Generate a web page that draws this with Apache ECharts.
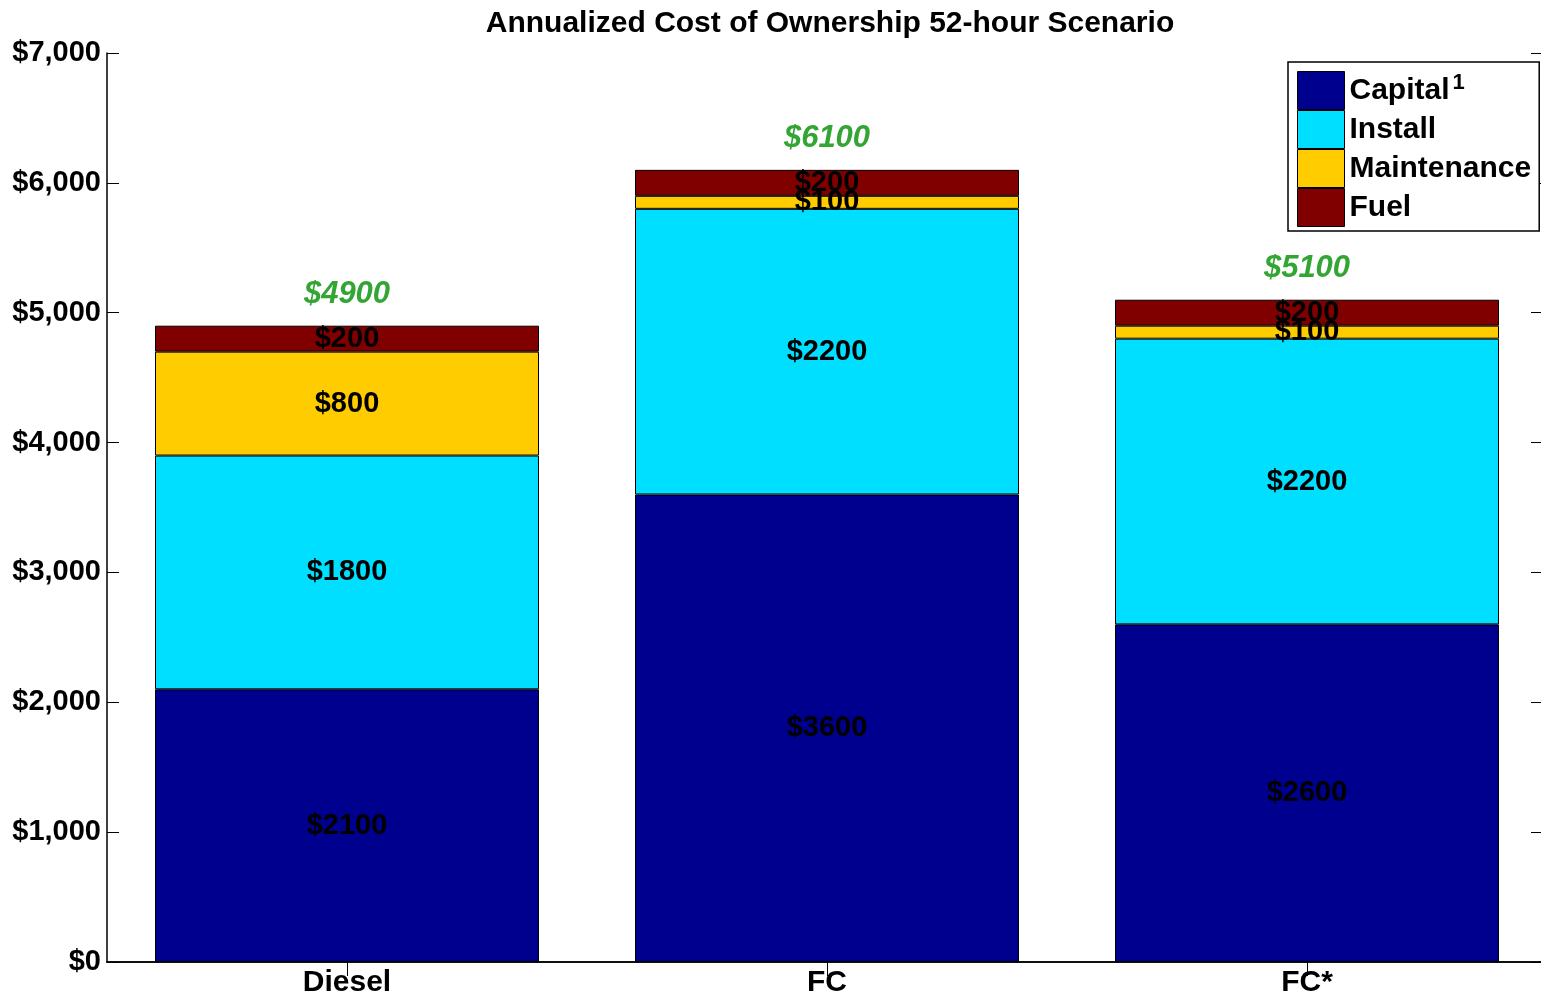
<!DOCTYPE html>
<html>
<head>
<meta charset="utf-8">
<script src="https://cdn.jsdelivr.net/npm/echarts@6/dist/echarts.min.js"></script>
<style>
  html, body { margin: 0; padding: 0; background: #fff; }
  #chart { width: 1541px; height: 997px; }
</style>
</head>
<body>
<div id="chart"></div>
<script>
// 数据
var categories = ['Diesel', 'FC', 'FC*']
var seriesNames = ['Capital', 'Install', 'Maintenance', 'Fuel']
var capital = [2100, 3600, 2600]
var install = [1800, 2200, 2200]
var maintenance = [800, 100, 100]
var fuel = [200, 200, 200]
var totals = [4900, 6100, 5100]
var yTicks = [0, 1000, 2000, 3000, 4000, 5000, 6000, 7000]

var font = 'Liberation Sans, Arial, sans-serif'
var colors = ['#00008F', '#00DFFF', '#FFCC00', '#800000']
var seriesData = [capital, install, maintenance, fuel]

function money(v) {
  return '$' + String(v).replace(/\B(?=(\d{3})+(?!\d))/g, ',')
}

var myChart = echarts.init(document.getElementById('chart'))

var series = seriesNames.map(function(name, i) {
  return {
    name: name,
    type: 'bar',
    stack: 'total',
    barWidth: '80%',
    data: seriesData[i],
    itemStyle: { color: colors[i], borderColor: '#000', borderWidth: 1 },
    label: {
      show: true,
      position: 'inside',
      color: '#000',
      fontFamily: font,
      fontWeight: 'bold',
      fontSize: 29,
      formatter: function(p) { return '$' + p.value }
    },
    emphasis: { disabled: true }
  }
})

// 总计标签
series.push({
  name: 'total',
  type: 'scatter',
  data: totals,
  symbolSize: 1,
  itemStyle: { color: 'rgba(0,0,0,0)' },
  silent: true,
  label: {
    show: true,
    position: 'top',
    distance: 15,
    color: '#008F00',
    fontFamily: font,
    fontWeight: 'bold',
    fontStyle: 'italic',
    fontSize: 31,
    formatter: function(p) { return '$' + p.value }
  }
})

var option = {
  backgroundColor: '#fff',
  animation: false,
  color: colors,
  title: {
    text: 'Annualized Cost of Ownership 52-hour Scenario',
    left: 825,
    textAlign: 'center',
    top: 4,
    textStyle: { fontFamily: font, fontWeight: 'bold', fontSize: 30, color: '#000' }
  },
  legend: {
    data: seriesNames,
    orient: 'vertical',
    left: 1288,
    top: 62,
    icon: 'rect',
    itemWidth: 47,
    itemHeight: 38,
    itemGap: 0,
    padding: [9, 8, 4, 9],
    backgroundColor: '#fff',
    borderColor: '#000',
    borderWidth: 1.5,
    itemStyle: { borderColor: '#000', borderWidth: 1 },
    formatter: function(name) {
      return name === 'Capital' ? name + '{sup|1}' : name
    },
    textStyle: {
      fontFamily: font,
      fontWeight: 'bold',
      fontSize: 30,
      color: '#000',
      rich: {
        sup: { fontFamily: font, fontWeight: 'bold', fontSize: 22, color: '#000', verticalAlign: 'top', padding: [0, 0, 16, 3] }
      }
    },
    selectedMode: false
  },
  grid: { left: 107, width: 1440, top: 53, bottom: 35, outerBoundsMode: 'none' },
  xAxis: [
    {
      type: 'category',
      data: categories,
      axisLine: { lineStyle: { color: '#000', width: 1.5 } },
      axisTick: { show: false },
      axisLabel: { fontFamily: font, fontWeight: 'bold', fontSize: 30, color: '#000', margin: 6 }
    },
    {
      type: 'category',
      data: categories,
      position: 'top',
      axisLine: { show: true, lineStyle: { color: '#000', width: 1.5 } },
      axisTick: { show: true, inside: true, alignWithLabel: true, length: 14, lineStyle: { color: '#000' } },
      axisLabel: { show: false }
    }
  ],
  yAxis: [
    {
      type: 'value',
      min: 0,
      max: 7000,
      interval: 1000,
      axisLine: { show: true, lineStyle: { color: '#000', width: 1.5 } },
      axisTick: { show: true, inside: true, length: 12, lineStyle: { color: '#000' } },
      splitLine: { show: false },
      axisLabel: {
        fontFamily: font, fontWeight: 'bold', fontSize: 29, color: '#000', margin: 6,
        formatter: function(v) { return yTicks.indexOf(v) >= 0 ? money(v) : '' }
      }
    },
    {
      type: 'value',
      min: 0,
      max: 7000,
      interval: 1000,
      position: 'right',
      axisLine: { show: true, lineStyle: { color: '#000', width: 1.5 } },
      axisTick: { show: true, inside: true, length: 16, lineStyle: { color: '#000' } },
      splitLine: { show: false },
      axisLabel: { show: false }
    }
  ],
  series: series
}

myChart.setOption(option, true)
</script>
</body>
</html>
